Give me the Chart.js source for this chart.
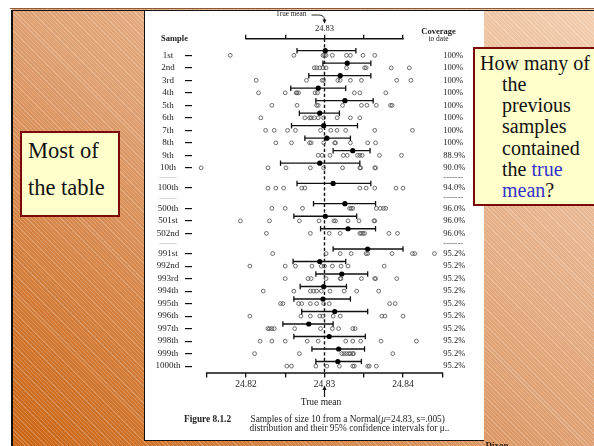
<!DOCTYPE html>
<html><head><meta charset="utf-8">
<script src="https://cdn.jsdelivr.net/npm/chart.js@4"></script>
<style>
html,body{margin:0;padding:0;}
body{width:594px;height:446px;overflow:hidden;position:relative;background:#fff;font-family:"Liberation Serif","Times New Roman",serif;}
#slide{position:absolute;left:12px;top:9px;width:582px;height:437px;
 background:repeating-linear-gradient(45deg, rgba(255,255,255,0.22) 0px, rgba(255,255,255,0.22) 0.9px, rgba(255,255,255,0) 0.9px, rgba(255,255,255,0) 3px), linear-gradient(to bottom left, #f2ceb0 0%, #dfa072 50%, #ca6412 100%);}
#brown{position:absolute;left:10px;top:7.5px;width:584px;height:1.2px;background:#8a5a3a;}
#blackTop{position:absolute;left:11px;top:9.5px;width:583px;height:1.5px;background:#111;}
#blackLeft{position:absolute;left:11px;top:9.5px;width:1.5px;height:437px;background:#111;}
#page{position:absolute;left:144px;top:11px;width:339.5px;height:429.5px;background:#fff;border-left:1px solid #111;border-bottom:1px solid #111;box-sizing:border-box;}
canvas#c{position:absolute;left:0;top:0;z-index:2;}
.t{position:absolute;z-index:3;white-space:nowrap;color:#222;line-height:1;}
.box{position:absolute;z-index:4;background:#ffffcc;border:2px solid #7d0a0a;box-sizing:border-box;color:#111;}
</style></head>
<body>
<div id="slide"></div>
<div id="brown"></div>
<div id="blackTop"></div>
<div id="blackLeft"></div>
<div id="page"></div>
<canvas id="c" width="594" height="446"></canvas>

<div class="t" style="left:291px;top:15px;font-size:7.2px;transform:translate(-50%,-50%);">True mean</div>
<div class="t" style="left:161px;top:37.5px;font-size:8.5px;font-weight:bold;transform:translate(0,-50%);">Sample</div>
<div class="t" style="left:438.5px;top:30.7px;font-size:8.5px;font-weight:bold;transform:translate(-50%,-50%);">Coverage</div>
<div class="t" style="left:438.5px;top:38.5px;font-size:7.5px;transform:translate(-50%,-50%);">to date</div>
<div class="t" style="left:321px;top:403px;font-size:9.5px;transform:translate(-50%,-50%);">True mean</div>
<div class="t" style="left:184px;top:420px;font-size:9.3px;font-weight:bold;transform:translate(0,-50%);">Figure 8.1.2</div>
<div class="t" style="left:250.5px;top:420px;font-size:9.3px;transform:translate(0,-50%);">Samples of size 10 from a Normal(<i>μ</i>=24.83, s=.005)</div>
<div class="t" style="left:249.5px;top:428.5px;font-size:9.3px;transform:translate(0,-50%);">distribution and their 95% confidence intervals for μ..</div>
<div class="t" style="left:485.5px;top:441px;font-size:9px;font-weight:bold;color:#2a1a10;">Dixon</div>

<div class="box" style="left:20px;top:131px;width:100px;height:86px;">
  <div style="font-size:22.5px;line-height:37px;padding-left:6px;margin-top:-1.5px;">Most of<br>the table</div>
</div>
<div class="box" style="left:473px;top:46.5px;width:125px;height:159.5px;">
  <div style="font-size:20px;line-height:21.2px;padding-top:4.2px;padding-left:5px;">
    <div>How many of</div>
    <div style="padding-left:22px;">the</div>
    <div style="padding-left:22px;">previous</div>
    <div style="padding-left:22px;">samples</div>
    <div style="padding-left:22px;">contained</div>
    <div style="padding-left:22px;">the <span style="color:#3333cc">true</span></div>
    <div style="padding-left:22px;"><span style="color:#3333cc">mean</span>?</div>
  </div>
</div>

<script>
// ---------- data ----------
const sampleNames = ['1st','2nd','3rd','4th','5th','6th','7th','8th','9th','10th','100th','500th','501st','502nd','991st','992nd','993rd','994th','995th','996th','997th','998th','999th','1000th'];
const separatorAfter = ['10th','100th','502nd'];
const coverage = ['100%','100%','100%','100%','100%','100%','100%','100%','88.9%','90.0%','94.0%','96.0%','96.0%','96.0%','95.2%','95.2%','95.2%','95.2%','95.2%','95.2%','95.2%','95.2%','95.2%','95.2%'];
const trueMean = 24.83;
const means  = [24.8301,24.8329,24.8320,24.8292,24.8326,24.8294,24.8299,24.8303,24.8336,24.8294,24.8311,24.8326,24.8301,24.8330,24.8355,24.8294,24.8322,24.8299,24.8298,24.8313,24.8280,24.8306,24.8318,24.8317];
const lowers = [24.8265,24.8298,24.8280,24.8257,24.8289,24.8268,24.8258,24.8275,24.8311,24.8244,24.8265,24.8286,24.8261,24.8295,24.8311,24.8260,24.8289,24.8269,24.8261,24.8271,24.8247,24.8261,24.8284,24.8289];
const uppers = [24.8340,24.8359,24.8359,24.8327,24.8362,24.8319,24.8342,24.8333,24.8358,24.8345,24.8359,24.8365,24.8341,24.8365,24.8400,24.8327,24.8355,24.8328,24.8333,24.8355,24.8311,24.8352,24.8351,24.8347];
const samples = [
  [24.8180,24.8261,24.8298,24.8300,24.8302,24.8310,24.8328,24.8333,24.8349,24.8364],
  [24.8287,24.8290,24.8294,24.8298,24.8302,24.8328,24.8351,24.8353,24.8385,24.8408],
  [24.8213,24.8277,24.8297,24.8299,24.8317,24.8320,24.8333,24.8347,24.8392,24.8410],
  [24.8216,24.8250,24.8264,24.8265,24.8267,24.8288,24.8291,24.8338,24.8345,24.8378],
  [24.8233,24.8265,24.8290,24.8292,24.8323,24.8347,24.8354,24.8366,24.8384,24.8386],
  [24.8219,24.8275,24.8281,24.8283,24.8287,24.8292,24.8299,24.8316,24.8333,24.8345],
  [24.8225,24.8236,24.8253,24.8263,24.8295,24.8308,24.8316,24.8327,24.8364,24.8412],
  [24.8238,24.8258,24.8281,24.8283,24.8299,24.8313,24.8314,24.8333,24.8355,24.8365],
  [24.8292,24.8297,24.8307,24.8324,24.8329,24.8342,24.8345,24.8348,24.8370,24.8398],
  [24.8143,24.8228,24.8251,24.8282,24.8299,24.8323,24.8345,24.8346,24.8364,24.8365],
  [24.8228,24.8238,24.8248,24.8271,24.8275,24.8345,24.8353,24.8364,24.8391,24.8400],
  [24.8233,24.8250,24.8272,24.8332,24.8334,24.8336,24.8366,24.8371,24.8375,24.8378],
  [24.8193,24.8230,24.8268,24.8293,24.8312,24.8314,24.8330,24.8344,24.8363,24.8364],
  [24.8226,24.8282,24.8306,24.8320,24.8345,24.8347,24.8349,24.8351,24.8382,24.8393],
  [24.8234,24.8302,24.8320,24.8334,24.8353,24.8355,24.8386,24.8412,24.8415,24.8440],
  [24.8205,24.8250,24.8263,24.8284,24.8296,24.8300,24.8310,24.8321,24.8330,24.8376],
  [24.8250,24.8279,24.8283,24.8302,24.8320,24.8321,24.8347,24.8364,24.8365,24.8392],
  [24.8222,24.8261,24.8282,24.8286,24.8290,24.8296,24.8307,24.8325,24.8341,24.8369],
  [24.8244,24.8247,24.8267,24.8271,24.8282,24.8290,24.8299,24.8306,24.8383,24.8390],
  [24.8205,24.8270,24.8282,24.8294,24.8298,24.8311,24.8320,24.8373,24.8377,24.8400],
  [24.8228,24.8230,24.8233,24.8236,24.8262,24.8295,24.8310,24.8318,24.8336,24.8339],
  [24.8218,24.8233,24.8250,24.8278,24.8292,24.8327,24.8336,24.8346,24.8372,24.8417],
  [24.8211,24.8268,24.8322,24.8325,24.8328,24.8331,24.8333,24.8336,24.8337,24.8387],
  [24.8252,24.8258,24.8289,24.8303,24.8319,24.8336,24.8338,24.8355,24.8357,24.8366]
];
const bottomTicks = [24.815,24.82,24.825,24.83,24.835,24.84,24.845];
const bottomLabels = [24.82,24.83,24.84];
const topTicks = [24.82,24.825,24.83,24.835,24.84];
const topLabels = [24.83];

// ---------- layout ----------
const SEP_STEP = 1.62, BAR_LIFT = 0.37;
const slots = []; const rowPos = []; let pos = 0;
sampleNames.forEach((name, k) => {
  if (k > 0) {
    if (separatorAfter.includes(sampleNames[k-1])) { slots.push({sep:true, pos: pos + SEP_STEP/2}); pos += SEP_STEP; }
    else pos += 1;
  }
  slots.push({sep:false, k, pos}); rowPos.push(pos);
});
const Y_MIN = -1.33, Y_MAX = 25.41;
const X_MIN = 24.81313, X_MAX = 24.845;

Chart.defaults.font.family = '"Liberation Serif","Times New Roman",serif';
Chart.defaults.color = '#222';

const datasets = [];
datasets.push({ data: means.map((m,k)=>({x:m, y:rowPos[k]-BAR_LIFT})), pointRadius:2.6, pointBackgroundColor:'#000', pointBorderWidth:0, clip:false, xAxisID:'x', yAxisID:'y' });
lowers.forEach((lo,k)=>{
  datasets.push({ showLine:true, data:[{x:lo,y:rowPos[k]-BAR_LIFT},{x:uppers[k],y:rowPos[k]-BAR_LIFT}], borderColor:'#111', borderWidth:1.3,
    pointStyle:'line', pointRotation:90, pointRadius:2.7, pointBorderColor:'#111', pointBorderWidth:1.3, pointBackgroundColor:'#111', clip:false, xAxisID:'x', yAxisID:'y' });
});
const obsData = [];
samples.forEach((arr,k)=>arr.forEach(v=>obsData.push({x:v, y:rowPos[k]})));
datasets.push({ data: obsData, pointRadius:1.9, pointBackgroundColor:'rgba(0,0,0,0)', pointBorderColor:'#555', pointBorderWidth:0.85, clip:false, xAxisID:'x', yAxisID:'y' });

const near = (v, arr) => arr.find(a => Math.abs(a - v) < 1e-7);

const decor = {
  id:'decor',
  beforeDatasetsDraw(chart){
    const {ctx, chartArea, scales} = chart;
    const x = scales.x.getPixelForValue(trueMean);
    ctx.save(); ctx.strokeStyle='#111'; ctx.lineWidth=1.4; ctx.setLineDash([3.2,2.3]);
    ctx.beginPath(); ctx.moveTo(x, chartArea.top); ctx.lineTo(x, chartArea.bottom); ctx.stroke(); ctx.restore();
  },
  afterDraw(chart){
    const {ctx, scales} = chart;
    const xb = scales.x, xt = scales.xTop;
    ctx.save(); ctx.strokeStyle='#111'; ctx.fillStyle='#111'; ctx.lineWidth=1.4;
    ctx.beginPath(); ctx.moveTo(xb.getPixelForValue(bottomTicks[0])-0.7, xb.top); ctx.lineTo(xb.getPixelForValue(bottomTicks[bottomTicks.length-1])+0.7, xb.top); ctx.stroke();
    ctx.beginPath(); ctx.moveTo(xt.getPixelForValue(topTicks[0])-0.7, xt.bottom); ctx.lineTo(xt.getPixelForValue(topTicks[topTicks.length-1])+0.7, xt.bottom); ctx.stroke();
    const mx = xt.getPixelForValue(trueMean);
    ctx.lineWidth = 0.9;
    ctx.beginPath(); ctx.moveTo(mx-13, 15); ctx.lineTo(mx-6, 15); ctx.quadraticCurveTo(mx, 15, mx, 20); ctx.stroke();
    ctx.beginPath(); ctx.moveTo(mx-2, 19.5); ctx.lineTo(mx+2, 19.5); ctx.lineTo(mx, 23.5); ctx.closePath(); ctx.fill();
    ctx.lineWidth = 1.2;
    ctx.beginPath(); ctx.moveTo(mx, 397); ctx.lineTo(mx, 389); ctx.stroke();
    ctx.beginPath(); ctx.moveTo(mx-2, 390); ctx.lineTo(mx+2, 390); ctx.lineTo(mx, 385.5); ctx.closePath(); ctx.fill();
    ctx.restore();
  }
};

const yTicks = s => { s.ticks = slots.map(sl => ({value: sl.pos})); };

new Chart(document.getElementById('c'), {
  type:'scatter',
  data:{ datasets },
  options:{
    responsive:false, animation:false, devicePixelRatio:1,
    layout:{ padding:0 },
    plugins:{ legend:{display:false}, tooltip:{enabled:false} },
    scales:{
      x:{ type:'linear', position:'bottom', min:X_MIN, max:X_MAX,
        afterBuildTicks: s => { s.ticks = bottomTicks.map(v=>({value:v})); },
        ticks:{ autoSkip:false, maxRotation:0, padding:1.5, font:{size:9.5}, color:'#222',
          callback: v => { const l = near(v, bottomLabels); return l !== undefined ? l.toFixed(2) : ''; } },
        grid:{ drawOnChartArea:false, tickLength:4.5, color:'#111', lineWidth:1.3 },
        border:{ display:false },
        afterFit: s => { s.height = 73; } },
      xTop:{ type:'linear', position:'top', min:X_MIN, max:X_MAX,
        afterBuildTicks: s => { s.ticks = topTicks.map(v=>({value:v})); },
        ticks:{ autoSkip:false, maxRotation:0, padding:0.5, font:{size:8.5}, color:'#222',
          callback: v => { const l = near(v, topLabels); return l !== undefined ? l.toFixed(2) : ''; } },
        grid:{ drawOnChartArea:false, tickLength:4, color:'#111', lineWidth:1.3 },
        border:{ display:false },
        afterFit: s => { s.height = 38.7; } },
      y:{ type:'linear', position:'left', reverse:true, min:Y_MIN, max:Y_MAX,
        afterBuildTicks: yTicks,
        ticks:{ autoSkip:false, crossAlign:'center', padding:4.5, font:{size:9},
          color: c => (slots[c.index] && slots[c.index].sep) ? '#b8b8b8' : '#222',
          callback: (v,i) => slots[i].sep ? '------' : sampleNames[slots[i].k] },
        grid:{ drawOnChartArea:false, tickLength:7, lineWidth:1.2,
          color: c => (slots[c.index] && slots[c.index].sep) ? 'rgba(0,0,0,0)' : '#111' },
        border:{ display:false },
        afterFit: s => { s.width = 192; } },
      yCov:{ type:'linear', position:'right', reverse:true, min:Y_MIN, max:Y_MAX,
        afterBuildTicks: yTicks,
        ticks:{ autoSkip:false, crossAlign:'near', padding:1, font:{size:8.5},
          color: c => (slots[c.index] && slots[c.index].sep) ? '#555' : '#222',
          callback: (v,i) => slots[i].sep ? '-------' : coverage[slots[i].k] },
        grid:{ drawOnChartArea:false, drawTicks:false },
        border:{ display:false },
        afterFit: s => { s.width = 151.7; } }
    }
  },
  plugins:[decor]
});
</script>
</body></html>
